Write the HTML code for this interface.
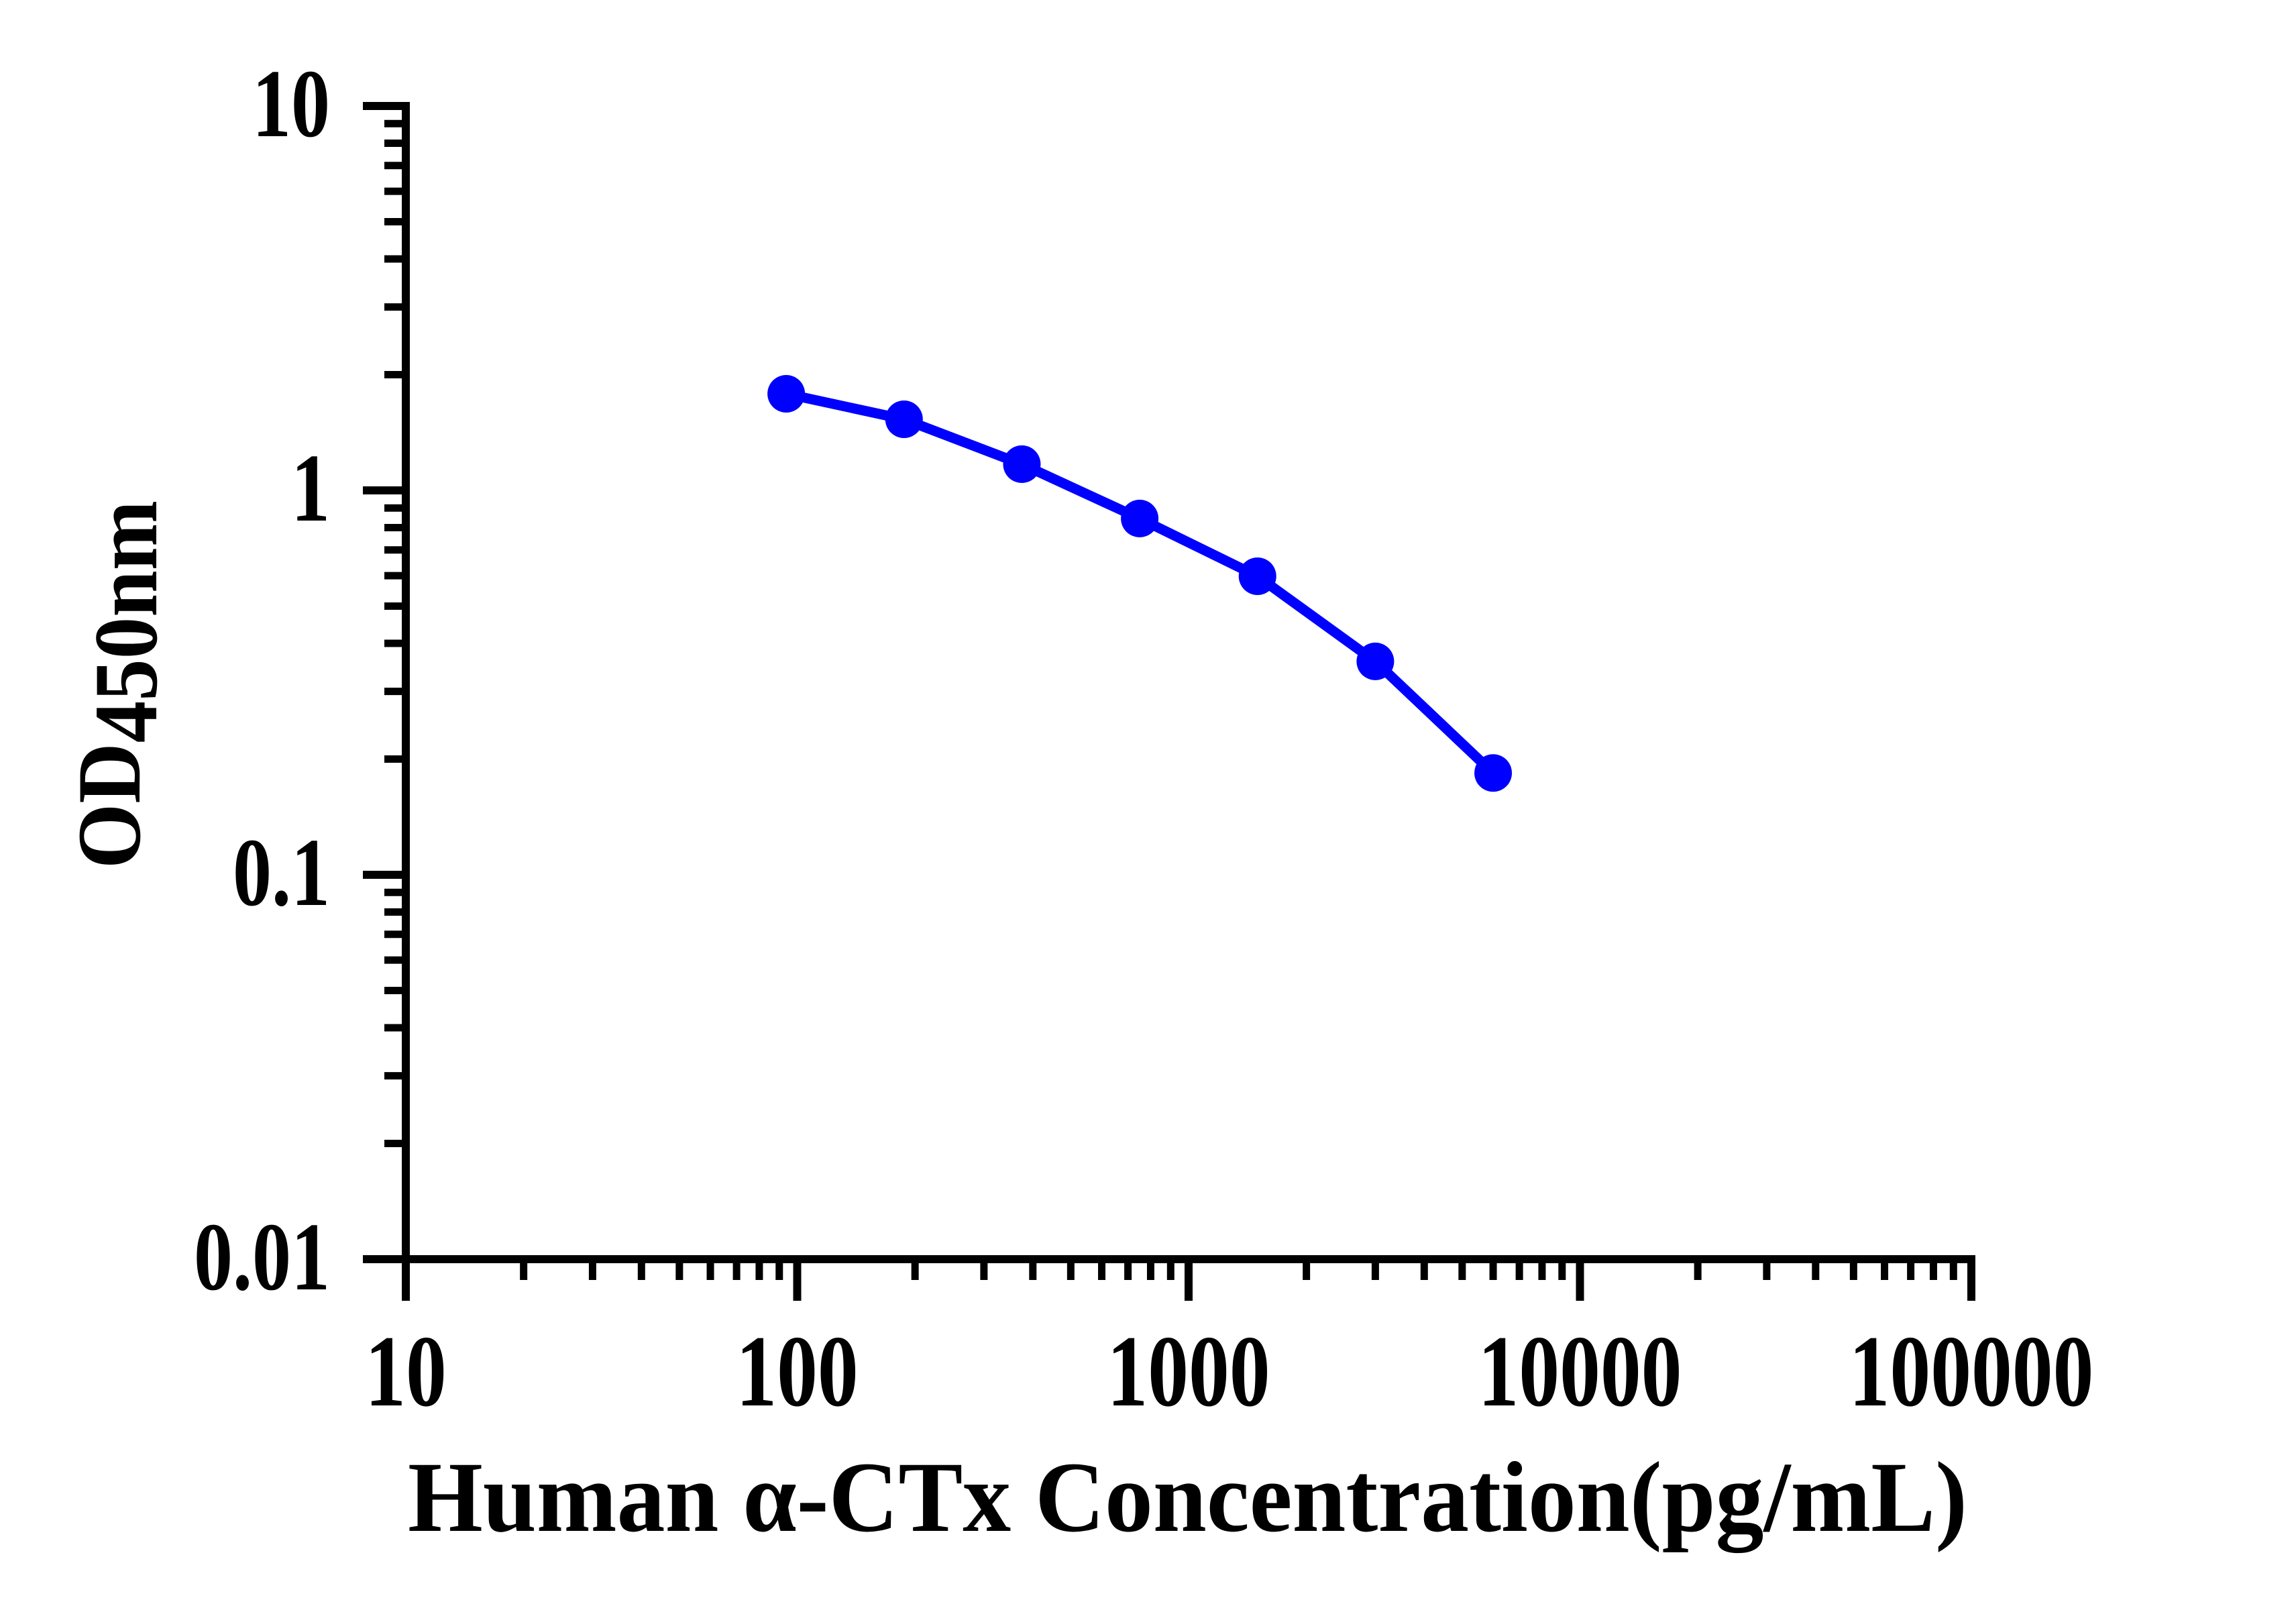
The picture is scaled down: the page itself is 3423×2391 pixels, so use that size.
<!DOCTYPE html>
<html><head><meta charset="utf-8"><style>html,body{margin:0;padding:0;background:#fff}svg{display:block}</style></head>
<body>
<svg id="chart" width="3423" height="2391" viewBox="0 0 3423 2391" xmlns="http://www.w3.org/2000/svg" font-family="'Liberation Serif', serif" font-weight="bold">
<rect width="3423" height="2391" fill="#fff"/>
<g id="axes"></g>
<g id="series"></g>
<text x="608" y="2282" font-size="150" textLength="2325" lengthAdjust="spacingAndGlyphs">Human α-CTx Concentration(pg/mL)</text>
<text transform="translate(208,1295) rotate(-90)" font-size="135" textLength="549" lengthAdjust="spacingAndGlyphs"><tspan>OD</tspan><tspan dy="25">450nm</tspan></text>
</svg>
<script>
const concentrations = [93.75, 187.5, 375, 750, 1500, 3000, 6000];
const odValues = [1.784, 1.531, 1.17, 0.845, 0.598, 0.359, 0.184];
const xTickValues = [10, 100, 1000, 10000, 100000];
const xTickLabels = ["10", "100", "1000", "10000", "100000"];
const yTickValues = [0.01, 0.1, 1, 10];
const yTickLabels = ["0.01", "0.1", "1", "10"];

const NS = "http://www.w3.org/2000/svg";
const X0 = 605, XDEC = 583.5, Y0 = 158, YDEC = 573;
function xs(v){ return X0 + (Math.log10(v) - 1) * XDEC; }
function ys(v){ return Y0 + (1 - Math.log10(v)) * YDEC; }
function mk(tag, attrs, parent){ const e = document.createElementNS(NS, tag); for (const k in attrs) e.setAttribute(k, attrs[k]); parent.appendChild(e); return e; }

const axes = document.getElementById('axes');
const xEnd = xs(100000), yBot = ys(0.01), yTop = ys(10);
let yl = mk('line', {x1: X0, y1: yTop - 6, x2: X0, y2: yBot + 62, stroke: '#000', 'stroke-width': 12}, axes);


let xl = mk('line', {x1: X0 - 64, y1: yBot, x2: xEnd + 6, y2: yBot, stroke: '#000', 'stroke-width': 12}, axes);



for (let d = 0; d < 4; d++) {
  for (let m = 2; m <= 9; m++) {
    const x = xs(xTickValues[d] * m);
    const t = mk('line', {x1: x, y1: yBot, x2: x, y2: yBot + 31, stroke: '#000', 'stroke-width': 11}, axes);
    
    
  }
}
xTickValues.forEach((v, i) => {
  const x = xs(v);
  const t = mk('line', {x1: x, y1: yBot, x2: x, y2: yBot + 62, stroke: '#000', 'stroke-width': 12}, axes);
  
  
  const g = mk('g', {transform: `translate(${x},2095) scale(0.8,1)`}, axes);
  const tx = mk('text', {x: 0, y: 0, 'font-size': 152, 'text-anchor': 'middle'}, g);
  tx.textContent = xTickLabels[i];
  
  
});

for (let d = 0; d < 3; d++) {
  for (let m = 2; m <= 9; m++) {
    const y = ys(yTickValues[d] * m);
    const t = mk('line', {x1: X0, y1: y, x2: X0 - 32, y2: y, stroke: '#000', 'stroke-width': 11}, axes);
    
    
  }
}
yTickValues.forEach((v, i) => {
  const y = ys(v);
  const t = mk('line', {x1: X0, y1: y, x2: X0 - 64, y2: y, stroke: '#000', 'stroke-width': 12}, axes);
  
  
  const g = mk('g', {transform: `translate(492,${y + 45}) scale(0.8,1)`}, axes);
  const tx = mk('text', {x: 0, y: 0, 'font-size': 145, 'text-anchor': 'end'}, g);
  tx.textContent = yTickLabels[i];
  
  
});

const series = document.getElementById('series');
const pts = concentrations.map((c, i) => xs(c) + ',' + ys(odValues[i])).join(' ');
const pl = mk('polyline', {points: pts, fill: 'none', stroke: '#0000ff', 'stroke-width': 15, 'stroke-linejoin': 'round'}, series);


concentrations.forEach((c, i) => {
  const p = mk('circle', {cx: xs(c), cy: ys(odValues[i]), r: 28, fill: '#0000ff'}, series);
  
  
});
</script>
</body></html>
